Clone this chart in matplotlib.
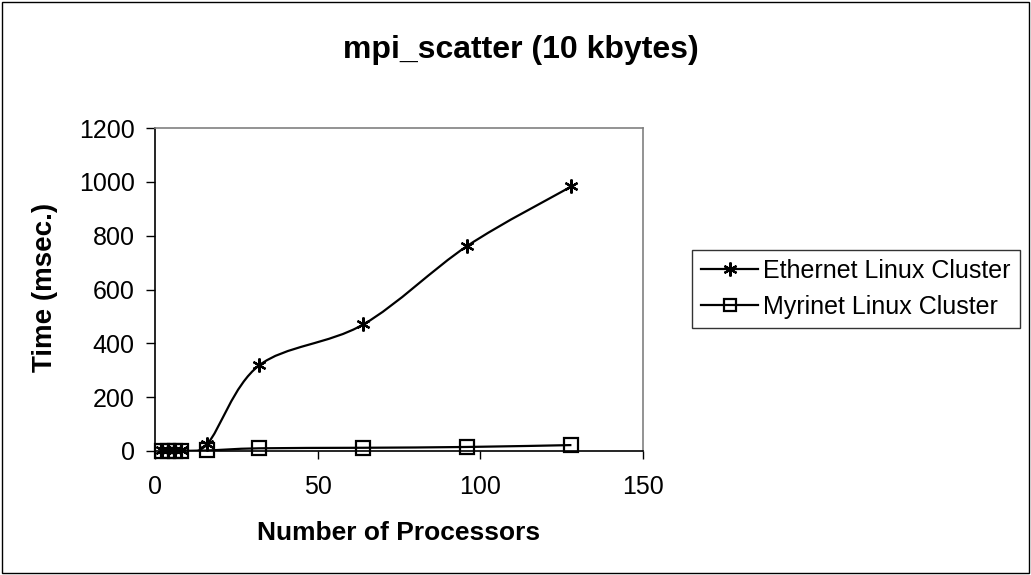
import matplotlib
matplotlib.use("Agg")
import matplotlib.pyplot as plt
from matplotlib.path import Path
from matplotlib.patches import PathPatch, Rectangle
from matplotlib.lines import Line2D
import numpy as np

processors = [2, 4, 6, 8, 16, 32, 64, 96, 128]
ethernet = [2, 3, 4, 5, 25, 318, 470, 762, 983]
myrinet = [1, 1, 1, 1, 2, 10, 12, 15, 22]
series_names = ["Ethernet Linux Cluster", "Myrinet Linux Cluster"]
title = "mpi_scatter (10 kbytes)"
xlabel = "Number of Processors"
ylabel = "Time (msec.)"

plt.rcParams['font.family'] = ['Liberation Sans', 'DejaVu Sans']

fig = plt.figure(figsize=(10.31, 5.75), dpi=100)
fig.patches.append(Rectangle((0.002, 0.003), 0.996, 0.994, transform=fig.transFigure,
                             fill=False, edgecolor='black', linewidth=1.0))
ax = fig.add_axes([155 / 1031, 1 - 451 / 575, 488 / 1031, 323 / 575])


def smooth_path(xs, ys):
    pts = np.column_stack([xs, ys]).astype(float)
    n = len(pts)
    verts = [pts[0]]
    codes = [Path.MOVETO]
    for i in range(n - 1):
        p0 = pts[i - 1] if i > 0 else pts[i]
        p1 = pts[i]
        p2 = pts[i + 1]
        p3 = pts[i + 2] if i + 2 < n else pts[i + 1]
        c1 = p1 + (p2 - p0) / 6.0
        c2 = p2 - (p3 - p1) / 6.0
        verts += [c1, c2, p2]
        codes += [Path.CURVE4] * 3
    return Path(verts, codes)


for ys, mk, ms in [(ethernet, (6, 2, 0), 10), (myrinet, 's', 9.5)]:
    ax.add_patch(PathPatch(smooth_path(processors, ys), facecolor='none',
                           edgecolor='black', linewidth=1.6, zorder=3))
    ax.plot(processors, ys, linestyle='none', marker=mk, markersize=ms,
            markerfacecolor='none', markeredgecolor='black', markeredgewidth=1.6,
            zorder=4, clip_on=False)

ax.set_xlim(0, 150)
ax.set_ylim(0, 1200)
ax.set_xticks([0, 50, 100, 150])
ax.set_yticks(range(0, 1201, 200))
ax.tick_params(direction='out', labelsize=18, width=1, color='black')
ax.tick_params(axis='x', length=6, pad=11)
ax.tick_params(axis='y', length=6.5, pad=8)
for s in ax.spines.values():
    s.set_color('#808080')
    s.set_linewidth(1.2)
ax.spines['left'].set_color('black')
ax.spines['bottom'].set_color('black')

fig.text(521 / 1031, 1 - 50 / 575, title, ha='center', va='center',
         fontsize=23, fontweight='bold')
fig.text(399 / 1031, 1 - 533 / 575, xlabel, ha='center', va='center',
         fontsize=19, fontweight='bold')
fig.text(45 / 1031, 1 - 287 / 575, ylabel, ha='center', va='center', rotation=90,
         fontsize=20, fontweight='bold')

handles = [Line2D([], [], color='black', linewidth=1.6, marker=(6, 2, 0), markersize=10,
                  markerfacecolor='none', markeredgewidth=1.6),
           Line2D([], [], color='black', linewidth=1.6, marker='s', markersize=8,
                  markerfacecolor='none', markeredgewidth=1.6)]
leg = fig.legend(handles, series_names, loc='upper left',
                 bbox_to_anchor=(692 / 1031, 1 - 250 / 575),
                 fontsize=18, frameon=True, fancybox=False, edgecolor='black',
                 handlelength=2.3, handletextpad=0.2, borderpad=0.35,
                 labelspacing=0.5, borderaxespad=0)
leg.get_frame().set_linewidth(1.0)

fig.savefig("out.png", dpi=100)
